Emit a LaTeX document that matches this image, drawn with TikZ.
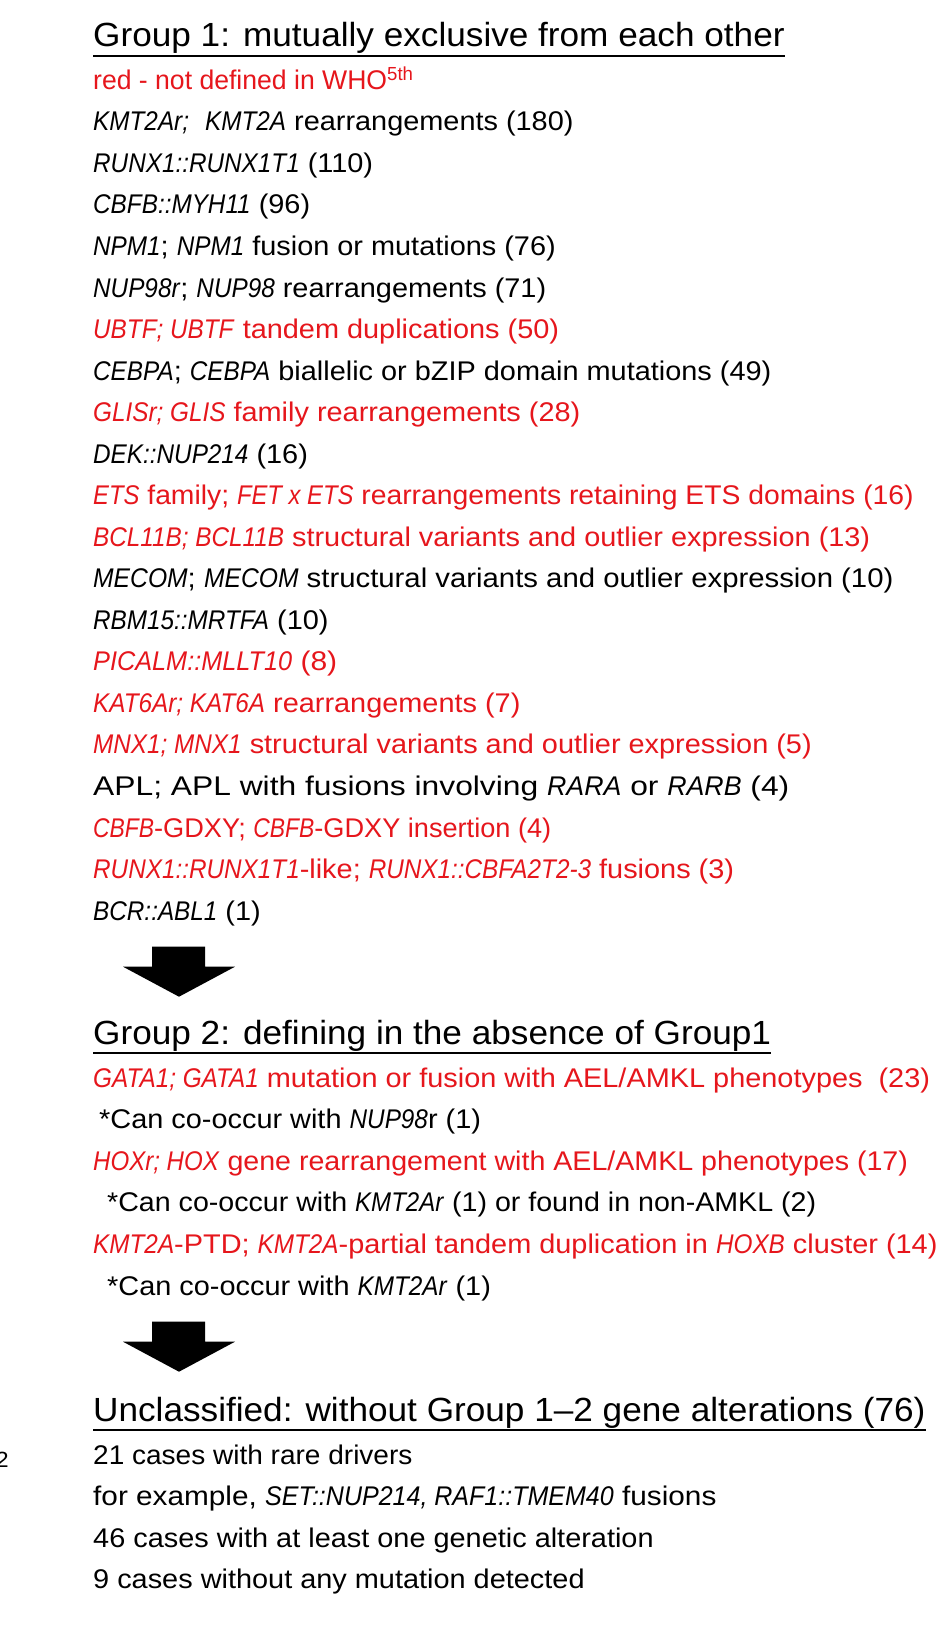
\documentclass[tikz,border=0pt]{standalone}
\usepackage{graphicx}
\usepackage{fontspec}
\setmainfont{Liberation Sans}[UprightFeatures={FakeStretch=1.07},ItalicFeatures={FakeStretch=0.9}]
\newfontfamily\headf[FakeStretch=1.05]{Liberation Sans}
\definecolor{wred}{RGB}{230,22,28}
\newcommand{\bodysz}{\fontsize{27pt}{32pt}\selectfont}
\newcommand{\headsz}{\headf\fontsize{33.5pt}{40pt}\selectfont}
\begin{document}
\begin{tikzpicture}[x=1pt,y=-1pt,
  txt/.style={anchor=base west,inner sep=0pt,font=\bodysz},
  rtxt/.style={txt,text=wred},
  head/.style={anchor=base west,inner sep=0pt,font=\headsz},
  uline/.style={line width=2pt},
  blockarrow/.style={fill=black}]
\useasboundingbox[fill=white] (0,0) rectangle (945,1630);
% Group 1
\node[head] (h1) at (93,46.5) {Group 1: mutually exclusive from each other};
\draw[uline] ([yshift=-2pt]h1.south west) -- ([yshift=-2pt]h1.south east);
\node[rtxt] (l0) at (93,89.3) {\scalebox{0.92}[1]{red - not defined in WHO\textsuperscript{5th}}};
\node[txt] (l1) at (93,130.8) {\textit{KMT2Ar;}\ \ \textit{KMT2A} rearrangements (180)};
\node[txt] (l2) at (93,172.4) {\textit{RUNX1::RUNX1T1} (110)};
\node[txt] (l3) at (93,213.9) {\textit{CBFB::MYH11} (96)};
\node[txt] (l4) at (93,255.5) {\textit{NPM1}; \textit{NPM1} fusion or mutations (76)};
\node[txt] (l5) at (93,297.0) {\textit{NUP98r}; \textit{NUP98} rearrangements (71)};
\node[rtxt] (l6) at (93,338.5) {\textit{UBTF; UBTF} tandem duplications (50)};
\node[txt] (l7) at (93,380.1) {\textit{CEBPA}; \textit{CEBPA} biallelic or bZIP domain mutations (49)};
\node[rtxt] (l8) at (93,421.6) {\textit{GLISr; GLIS} family rearrangements (28)};
\node[txt] (l9) at (93,463.2) {\textit{DEK::NUP214} (16)};
\node[rtxt] (l10) at (93,504.7) {\scalebox{0.98}[1]{\textit{ETS} family; \textit{FET x ETS} rearrangements retaining ETS domains (16)}};
\node[rtxt] (l11) at (93,546.2) {\textit{BCL11B; BCL11B} structural variants and outlier expression (13)};
\node[txt] (l12) at (93,587.8) {\scalebox{1.015}[1]{\textit{MECOM}; \textit{MECOM} structural variants and outlier expression (10)}};
\node[txt] (l13) at (93,629.3) {\textit{RBM15::MRTFA} (10)};
\node[rtxt] (l14) at (93,670.9) {\scalebox{1.04}[1]{\textit{PICALM::MLLT10} (8)}};
\node[rtxt] (l15) at (93,712.4) {\textit{KAT6Ar; KAT6A} rearrangements (7)};
\node[rtxt] (l16) at (93,753.9) {\textit{MNX1; MNX1} structural variants and outlier expression (5)};
\node[txt] (l17) at (93,795.5) {\scalebox{1.1}[1]{APL; APL with fusions involving \textit{RARA} or \textit{RARB} (4)}};
\node[rtxt] (l18) at (93,837.0) {\scalebox{0.94}[1]{\textit{CBFB}-GDXY; \textit{CBFB}-GDXY insertion (4)}};
\node[rtxt] (l19) at (93,878.6) {\textit{RUNX1::RUNX1T1}-like; \textit{RUNX1::CBFA2T2-3} fusions (3)};
\node[txt] (l20) at (93,920.1) {\textit{BCR::ABL1} (1)};
% arrow 1
\fill[blockarrow] (152,946.7) -- (205,946.7) -- (205,966.7) -- (235,966.7) -- (179,996.7) -- (123,966.7) -- (152,966.7) -- cycle;
% Group 2
\node[head] (h2) at (93,1044) {Group 2: defining in the absence of Group1};
\draw[uline] ([yshift=-2pt]h2.south west) -- ([yshift=-2pt]h2.south east);
\node[rtxt] (m0) at (93,1087.3) {\textit{GATA1; GATA1} mutation or fusion with AEL/AMKL phenotypes\ \ (23)};
\node[txt] (m1) at (99,1128.8) {*Can co-occur with \textit{NUP98}r (1)};
\node[rtxt] (m2) at (93,1170.4) {\scalebox{0.99}[1]{\textit{HOXr; HOX} gene rearrangement with AEL/AMKL phenotypes (17)}};
\node[txt] (m3) at (107,1211.9) {\scalebox{0.99}[1]{*Can co-occur with \textit{KMT2Ar} (1) or found in non-AMKL (2)}};
\node[rtxt] (m4) at (93,1253.5) {\textit{KMT2A}-PTD; \textit{KMT2A}-partial tandem duplication in \textit{HOXB} cluster (14)};
\node[txt] (m5) at (107,1295.0) {*Can co-occur with \textit{KMT2Ar} (1)};
% arrow 2
\fill[blockarrow] (152,1321.7) -- (205,1321.7) -- (205,1341.7) -- (235,1341.7) -- (179,1371.7) -- (123,1341.7) -- (152,1341.7) -- cycle;
% Unclassified
\node[head] (h3) at (93,1421) {Unclassified: without Group 1–2 gene alterations (76)};
\draw[uline] ([yshift=-2pt]h3.south west) -- ([yshift=-2pt]h3.south east);
\node[txt] (n0) at (93,1464.3) {\scalebox{0.97}[1]{21 cases with rare drivers}};
\node[txt] (n1) at (93,1505.8) {\scalebox{1.03}[1]{for example, \textit{SET::NUP214, RAF1::TMEM40} fusions}};
\node[txt] (n2) at (93,1547.4) {46 cases with at least one genetic alteration};
\node[txt] (n3) at (93,1588.9) {9 cases without any mutation detected};
\node[anchor=base east,inner sep=0pt,font=\fontsize{22pt}{26pt}\selectfont] (cut2) at (9,1467) {2};
\end{tikzpicture}
\end{document}
